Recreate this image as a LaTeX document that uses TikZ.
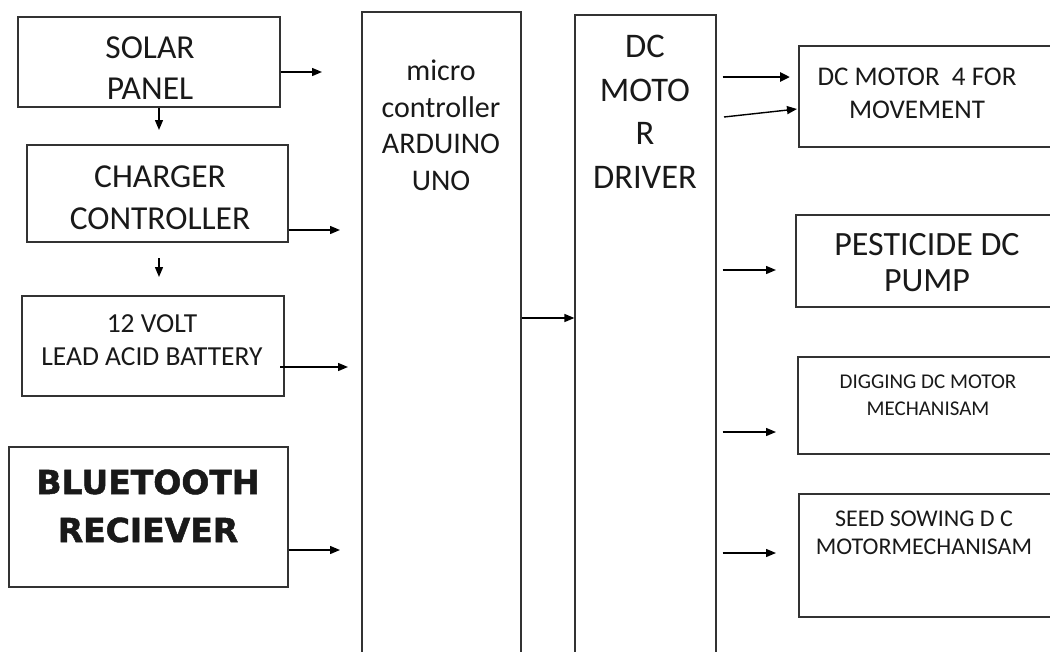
\documentclass[tikz,border=0pt]{standalone}
\usepackage{fontspec}
\setmainfont{Carlito}
\newfontfamily\btfont[BoldFeatures={FakeBold=1.5}]{DejaVu Sans}
\usetikzlibrary{arrows.meta}
\tikzset{
  box/.style={draw=black!80, line width=1.2pt, rectangle, inner sep=0pt},
  lbl/.style={align=center, inner sep=0pt, text=black!90},
  arr/.style={line width=1.4pt, -{Triangle[length=10pt,width=8pt]}},
  thickarr/.style={line width=2.8pt, -{Triangle[length=10pt,width=9pt]}}
}
\begin{document}
\begin{tikzpicture}[x=1pt,y=-1pt]
\useasboundingbox (0,0) rectangle (1050,651);
\clip (0,0) rectangle (1050,651);
% boxes
\node[box, minimum width=262pt, minimum height=90pt] (solar) at (149,62) {};
\node[box, minimum width=261pt, minimum height=97pt] (charger) at (157.5,193.5) {};
\node[box, minimum width=262pt, minimum height=100pt] (battery) at (153,346) {};
\node[box, minimum width=279pt, minimum height=140pt] (bt) at (148.5,517) {};
\node[box, minimum width=159pt, minimum height=700pt] (micro) at (441.5,362) {};
\node[box, minimum width=141pt, minimum height=700pt] (driver) at (645.5,365) {};
\node[box, minimum width=271pt, minimum height=101pt] (motor) at (934.5,96.5) {};
\node[box, minimum width=274pt, minimum height=92pt] (pump) at (933,261) {};
\node[box, minimum width=272pt, minimum height=97pt] (dig) at (934,405.5) {};
\node[box, minimum width=271pt, minimum height=123pt] (seed) at (934.5,555.5) {};
% labels
\node[lbl, font=\fontsize{33.5}{41}\selectfont] (solarT) at (150,68) {SOLAR\\PANEL};
\node[lbl, font=\fontsize{33.5}{42}\selectfont] (chargerT) at (160,198) {CHARGER\\CONTROLLER};
\node[lbl, font=\fontsize{27.5}{33}\selectfont] (batteryT) at (152,340) {12 VOLT\\LEAD ACID BATTERY};
\node[lbl, font=\btfont\bfseries\fontsize{33}{48}\selectfont] (btT) at (148,506) {BLUETOOTH\\RECIEVER};
\node[lbl, font=\fontsize{30}{36.5}\selectfont, anchor=north] (microT) at (441,60) {micro\\controller\\ARDUINO\\UNO};
\node[lbl, font=\fontsize{34.5}{43.5}\selectfont, anchor=north] (driverT) at (645,35) {DC\\MOTO\\R\\DRIVER};
\node[lbl, font=\fontsize{27}{33}\selectfont] (motorT) at (917,93) {DC MOTOR\ \ 4 FOR\\MOVEMENT};
\node[lbl, font=\fontsize{34}{36}\selectfont] (pumpT) at (927,263) {PESTICIDE DC\\PUMP};
\node[lbl, font=\fontsize{21}{27}\selectfont] (digT) at (928,395) {DIGGING DC MOTOR\\MECHANISAM};
\node[lbl, font=\fontsize{24}{28}\selectfont] (seedT) at (924,533) {SEED SOWING D C\\MOTORMECHANISAM};
% free arrow ends
\coordinate (e1) at (322,72);
\coordinate (e2) at (340,230);
\coordinate (s2) at (159,258);
\coordinate (e3) at (159,277);
\coordinate (s4) at (280,367);
\coordinate (e4) at (348,367);
\coordinate (e5) at (340,550);
\coordinate (e6) at (790,77);
\coordinate (s7) at (724,117);
\coordinate (e7) at (797,109);
\coordinate (e8) at (776,270);
\coordinate (e9) at (776,432);
\coordinate (e10) at (776,553);
\coordinate (e11) at (159,130);
% connectors
\draw[arr] (solar.east |- e1) -- (e1);
\draw[arr] (solar.south -| e11) -- (e11);
\draw[arr] (charger.east |- e2) -- (e2);
\draw[arr] (s2) -- (e3);
\draw[arr] (s4) -- (e4);
\draw[arr] (bt.east |- e5) -- (e5);
\draw[arr] (micro.east |- 0,318) -- (driver.west |- 0,318);
\draw[thickarr] ([xshift=6pt]driver.east |- e6) -- (e6);
\draw[arr] (s7) -- (e7);
\draw[arr] ([xshift=6pt]driver.east |- e8) -- (e8);
\draw[arr] ([xshift=6pt]driver.east |- e9) -- (e9);
\draw[arr] ([xshift=6pt]driver.east |- e10) -- (e10);
\end{tikzpicture}
\end{document}
